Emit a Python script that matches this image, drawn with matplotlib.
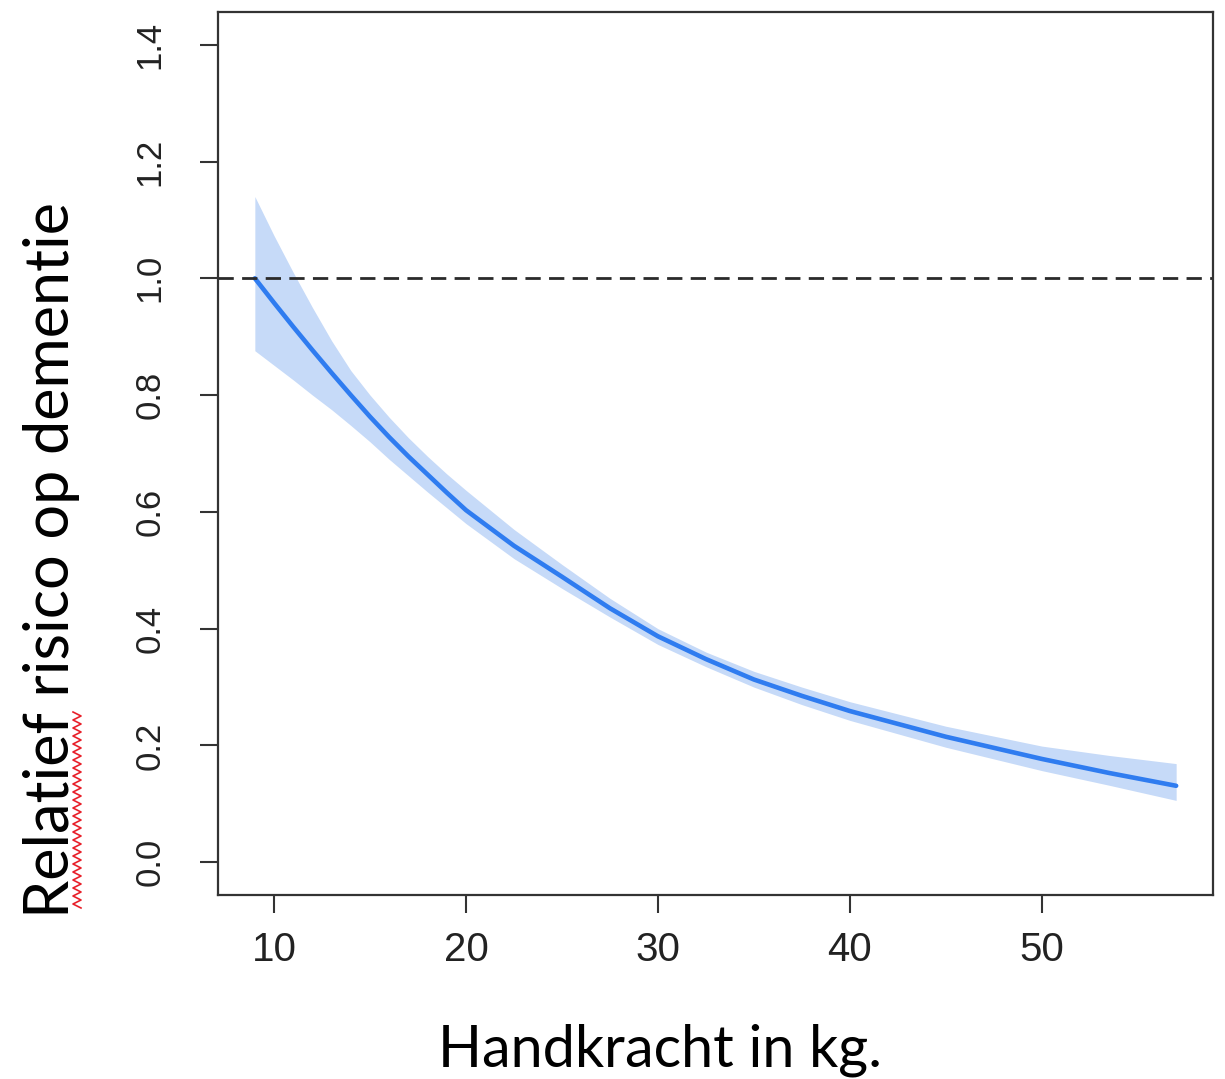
import matplotlib.pyplot as plt
import numpy as np

# grip strength (kg) and relative dementia risk
handkracht = [9, 10, 11, 12, 13, 14, 15, 16, 17, 18, 19, 20, 22.5, 25, 27.5,
              30, 32.5, 35, 37.5, 40, 45, 50, 53.5, 57]
risico = [1.00, 0.958, 0.917, 0.877, 0.838, 0.80, 0.763, 0.728, 0.695, 0.664,
          0.633, 0.603, 0.542, 0.489, 0.435, 0.387, 0.348, 0.313, 0.285,
          0.259, 0.215, 0.177, 0.153, 0.131]
bovengrens = [1.14, 1.073, 1.01, 0.95, 0.893, 0.842, 0.80, 0.762, 0.727, 0.695,
              0.665, 0.637, 0.57, 0.51, 0.452, 0.40, 0.36, 0.327, 0.30, 0.275,
              0.233, 0.199, 0.183, 0.169]
ondergrens = [0.876, 0.851, 0.826, 0.80, 0.775, 0.748, 0.72, 0.69, 0.662,
              0.634, 0.607, 0.58, 0.52, 0.469, 0.42, 0.373, 0.335, 0.30, 0.27,
              0.243, 0.197, 0.157, 0.132, 0.106]
xticks = [10, 20, 30, 40, 50]
yticks = [0.0, 0.2, 0.4, 0.6, 0.8, 1.0, 1.2, 1.4]

tickfont = ["Liberation Sans", "DejaVu Sans"]
labelfont = ["Lato", "Open Sans", "DejaVu Sans"]

W, H = 1225, 1079
fig = plt.figure(figsize=(W / 100, H / 100), dpi=100)
ax = fig.add_axes([218 / W, 1 - 895 / H, (1213 - 218) / W, (895 - 12) / H])

ax.fill_between(handkracht, ondergrens, bovengrens, color="#c6daf8", lw=0)
ax.plot(handkracht, risico, color="#2f7cf0", lw=3.3, solid_capstyle="round",
        solid_joinstyle="round")
ax.axhline(1.0, color="#2a2a2a", lw=2, ls=(0, (5.5, 3)))

ax.set_xlim(7.08, 58.92)
ax.set_ylim(-0.056, 1.456)
ax.set_xticks(xticks)
ax.set_xticklabels([str(t) for t in xticks], family=tickfont, fontsize=29,
                   color="#222222")
ax.set_yticks(yticks)
ax.set_yticklabels(["%.1f" % t for t in yticks], family=tickfont, fontsize=25,
                   color="#222222", rotation=90, va="center")
ax.tick_params(axis="x", length=13, width=1.5, pad=13, color="#333333")
ax.tick_params(axis="y", length=13, width=1.5, pad=24, color="#333333")
for s in ax.spines.values():
    s.set_linewidth(1.6)
    s.set_color("#333333")

fig.text(52 / W, 1 - 560 / H, "Relatief risico op dementie", rotation=90,
         ha="center", va="center", family=labelfont, fontsize=44, color="black")
fig.text(660 / W, 1 - 1050 / H, "Handkracht in kg.", ha="center", va="center",
         family=labelfont, fontsize=41.5, color="black")

# red spell-check squiggle under "Relatief"
zy = np.arange(712, 912, 4)
zx = np.where(np.arange(len(zy)) % 2 == 0, 73, 81)
fig.add_artist(plt.Line2D(zx / W, 1 - zy / H, color="#e8202a", lw=1.2,
                          transform=fig.transFigure))

fig.savefig("out.png", dpi=100)
